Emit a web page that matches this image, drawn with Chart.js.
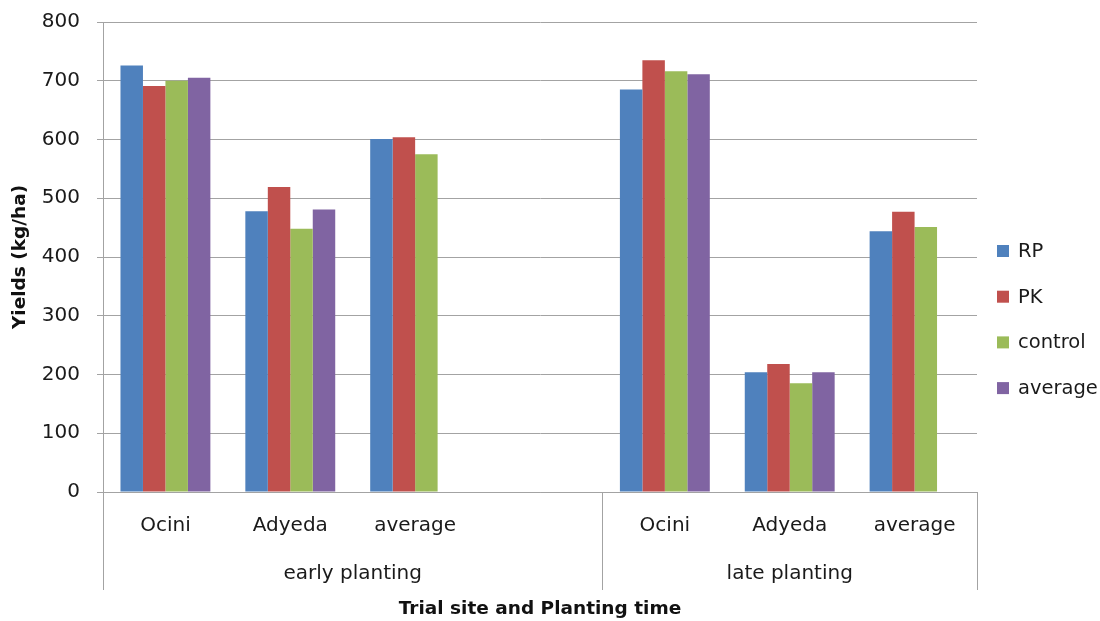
<!DOCTYPE html>
<html>
<head>
<meta charset="utf-8">
<title>Yields by trial site and planting time</title>
<script src="https://cdn.jsdelivr.net/npm/chart.js@4/dist/chart.umd.min.js"></script>
<style>
  html, body { margin: 0; padding: 0; background: #ffffff; }
  #wrap { width: 1100px; height: 621px; position: relative; }
</style>
</head>
<body>
<div id="wrap"><canvas id="chart" width="1100" height="621"></canvas></div>
<script>
// Sites within each planting time (the empty slot separates the two groups)
const categories = ['Ocini', 'Adyeda', 'average', '', 'Ocini', 'Adyeda', 'average'];
const groupNames = ['early planting', 'late planting'];
const groupSizes = [4, 3];

// Yields in kg/ha per treatment
const seriesNames = ['RP', 'PK', 'control', 'average'];
const rpValues      = [726, 478, 601, null, 685, 204, 444];
const pkValues      = [691, 519, 604, null, 735, 218, 477];
const controlValues = [700, 448, 575, null, 716, 185, 451];
const averageValues = [705, 481, null, null, 711, 204, null];

const yTicks = [0, 100, 200, 300, 400, 500, 600, 700, 800];

const seriesColors = ['#4F81BD', '#C0504D', '#9BBB59', '#8064A2'];
const seriesValues = [rpValues, pkValues, controlValues, averageValues];

const FONT = 'DejaVu Sans';
const TEXT = '#1a1a1a';
const LINE = '#a3a3a3';

// Group labels under the site labels, with separator lines between groups
const groupAxisPlugin = {
  id: 'groupAxis',
  afterDraw(chart) {
    const x = chart.scales.x;
    const ctx = chart.ctx;
    const area = chart.chartArea;
    const bottom = area.bottom + 98;
    const bounds = [x.left];
    let idx = 0;
    groupSizes.forEach((n) => {
      idx += n;
      if (idx >= categories.length) {
        bounds.push(x.right);
      } else {
        bounds.push((x.getPixelForValue(idx - 1) + x.getPixelForValue(idx)) / 2);
      }
    });
    ctx.save();
    ctx.strokeStyle = LINE;
    ctx.lineWidth = 1;
    bounds.forEach(b => {
      const px = Math.round(b) + 0.5;
      ctx.beginPath();
      ctx.moveTo(px, area.bottom);
      ctx.lineTo(px, bottom);
      ctx.stroke();
    });
    ctx.fillStyle = TEXT;
    ctx.font = '20px "' + FONT + '"';
    ctx.textAlign = 'center';
    ctx.textBaseline = 'middle';
    groupNames.forEach((name, g) => {
      ctx.fillText(name, (bounds[g] + bounds[g + 1]) / 2, area.bottom + 82);
    });
    ctx.restore();
  }
};

// Legend column on the right of the plot
const sideLegendPlugin = {
  id: 'sideLegend',
  afterDraw(chart) {
    const ctx = chart.ctx;
    const area = chart.chartArea;
    const boxX = area.right + 20;
    const firstY = 251;
    const step = 45.7;
    ctx.save();
    ctx.font = '19.5px "' + FONT + '"';
    ctx.textAlign = 'left';
    ctx.textBaseline = 'middle';
    chart.data.datasets.forEach((ds, i) => {
      const cy = firstY + i * step;
      ctx.fillStyle = ds.backgroundColor;
      ctx.fillRect(boxX, cy - 6, 12, 12);
      ctx.fillStyle = TEXT;
      ctx.fillText(ds.label, boxX + 21, cy + 1);
    });
    ctx.restore();
  }
};

new Chart(document.getElementById('chart'), {
  type: 'bar',
  data: {
    labels: categories,
    datasets: seriesNames.map((name, i) => ({
      label: name,
      data: seriesValues[i],
      backgroundColor: seriesColors[i],
      borderWidth: 0,
      categoryPercentage: 0.72,
      barPercentage: 1.0
    }))
  },
  options: {
    responsive: false,
    animation: false,
    events: [],
    layout: { padding: { top: 22, right: 123, bottom: 0, left: 0 } },
    plugins: {
      legend: { display: false },
      tooltip: { enabled: false },
      title: { display: false }
    },
    scales: {
      x: {
        type: 'category',
        grid: { display: false, drawTicks: false, tickLength: 0 },
        border: { display: true, color: LINE, width: 1 },
        ticks: {
          color: TEXT,
          font: { family: FONT, size: 20 },
          padding: 22,
          maxRotation: 0,
          autoSkip: false
        },
        title: {
          display: true,
          text: 'Trial site and Planting time',
          color: '#111111',
          font: { family: FONT, size: 18.5, weight: 'bold' },
          padding: { top: 0, bottom: 1 }
        },
        afterFit(scale) {
          scale.height = 129;
          scale.paddingLeft = 0;
          scale.paddingRight = 0;
        }
      },
      y: {
        min: 0,
        max: 800,
        afterBuildTicks(scale) { scale.ticks = yTicks.map(v => ({ value: v })); },
        grid: { color: LINE, lineWidth: 1, drawTicks: true, tickLength: 6, tickColor: LINE },
        border: { display: true, color: LINE, width: 1 },
        ticks: {
          color: TEXT,
          font: { family: FONT, size: 20 },
          padding: 17
        },
        title: {
          display: true,
          text: 'Yields (kg/ha)',
          color: '#111111',
          font: { family: FONT, size: 18.5, weight: 'bold' },
          padding: { top: 9, bottom: 0 }
        },
        afterFit(scale) {
          scale.width = 103;
          scale.paddingTop = 0;
          scale.paddingBottom = 0;
        }
      }
    }
  },
  plugins: [groupAxisPlugin, sideLegendPlugin]
});
</script>
</body>
</html>
